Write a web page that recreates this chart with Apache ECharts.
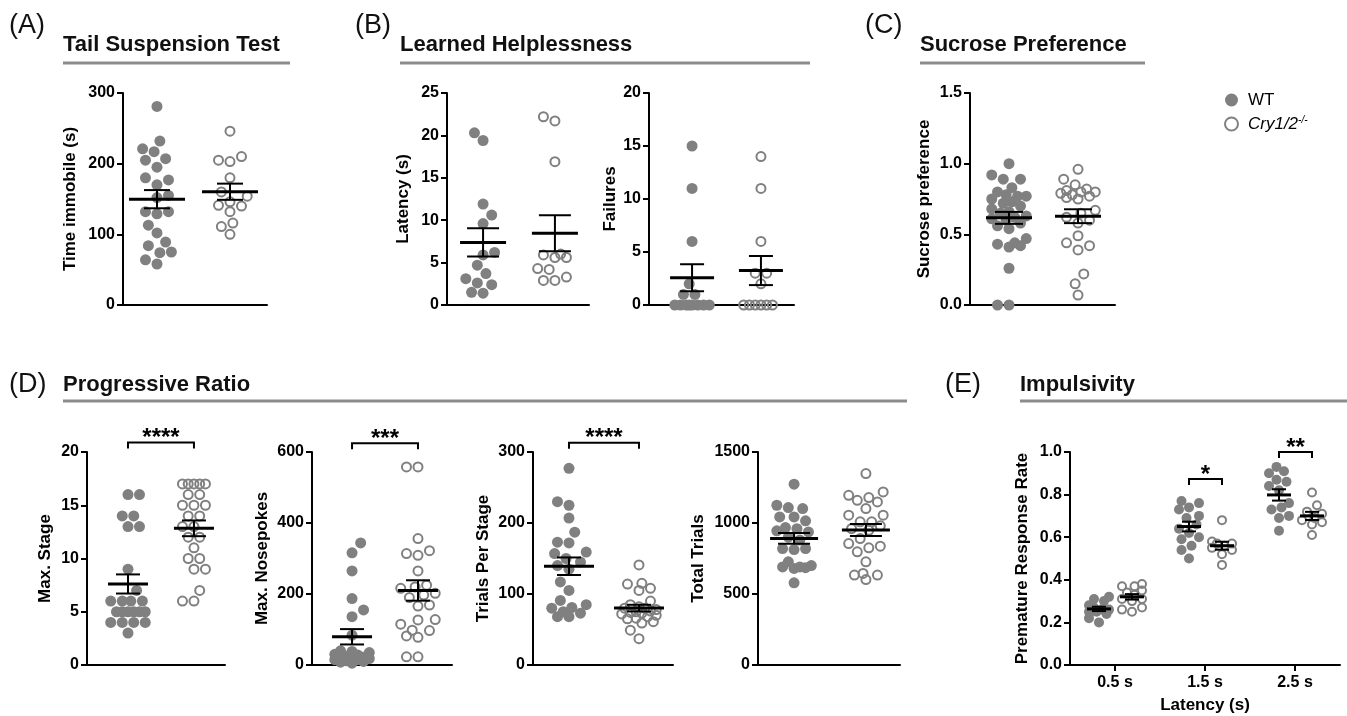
<!DOCTYPE html>
<html><head><meta charset="utf-8">
<script src="https://cdn.jsdelivr.net/npm/echarts@6/dist/echarts.min.js"></script>
<style>html,body{margin:0;padding:0;background:#fff}#c{width:1347px;height:716px}</style>
</head><body><div id="c"></div>
<script>
// ---------------- data ----------------
const tstWT = [281,232,221,217,207,205,195,180,177,170,155,152,132,132,129,113,102,89,84,75,74,64,58];
const tstKO = [246,210,205,203,180,160,154,146,141,140,132,116,111,100];
const lhLatWT = [20.3,19.4,11.9,10.6,9.6,6.2,5.9,4.7,3.7,3.1,2.6,2.4,1.5,1.4];
const lhLatKO = [22.2,21.7,16.9,6.0,5.9,5.6,5.6,4.3,4.2,3.3,2.9,2.9];
const lhFailWT = [15,11,6,2,1,1,0,0,0,0,0,0,0,0];
const lhFailKO = [14,11,6,3,3,2,0,0,0,0,0,0];
const spWT = [1.00,0.92,0.89,0.89,0.83,0.80,0.78,0.77,0.77,0.75,0.73,0.72,0.70,0.68,0.66,0.65,0.63,0.62,0.61,0.60,0.58,0.56,0.54,0.47,0.44,0.43,0.42,0.41,0.26,0.00,0.00];
const spKO = [0.96,0.89,0.85,0.82,0.81,0.80,0.80,0.79,0.78,0.77,0.76,0.75,0.67,0.65,0.62,0.60,0.58,0.49,0.44,0.42,0.39,0.22,0.15,0.07];
const prStageWT = [16,16,14,14,13,13,9,7,6,6,6,6,5,5,5,5,5,5,4,4,4,4,3];
const prStageKO = [17,17,17,17,17,16,16,15,15,15,14,14,13,13,12,12,11,10,10,9,9,7,6,6];
const prPokesWT = [344,316,265,187,155,136,84,40,38,35,30,28,25,22,20,20,18,15,15,12,10,8,5];
const prPokesKO = [558,558,356,322,314,309,265,225,220,216,202,197,190,169,166,128,127,115,98,97,82,78,23,23];
const prTpsWT = [277,230,225,207,187,173,172,159,157,150,145,140,135,117,105,91,85,81,80,75,73,68,68];
const prTpsKO = [141,115,114,108,105,90,85,82,80,80,78,76,75,74,73,72,70,68,66,65,61,59,49,37];
const prTotalWT = [1273,1125,1109,1102,1043,1043,1015,968,960,945,937,900,880,820,820,813,727,700,691,691,685,680,579];
const prTotalKO = [1348,1219,1195,1179,1160,1148,1102,1055,1055,1008,1008,980,960,949,890,855,837,825,797,727,645,633,633,602];
const impCats = ['0.5 s','1.5 s','2.5 s'];
const impWT = [[0.32,0.31,0.30,0.28,0.27,0.26,0.26,0.25,0.25,0.24,0.22,0.20],
               [0.77,0.76,0.74,0.73,0.70,0.69,0.66,0.64,0.62,0.60,0.59,0.56,0.54,0.50],
               [0.93,0.91,0.90,0.87,0.86,0.84,0.82,0.76,0.74,0.73,0.70,0.69,0.63]];
const impKO = [[0.38,0.37,0.37,0.35,0.34,0.33,0.31,0.31,0.30,0.27,0.26,0.25],
               [0.68,0.57,0.56,0.58,0.57,0.55,0.54,0.52,0.47],
               [0.81,0.75,0.72,0.71,0.69,0.68,0.67,0.66,0.61]];
const prSigLabels = ['****','***','****',null];
const prSigY = [20.9, 625, 313, null];
const impSigLabels = [null,'*','**'];
const impSigY = [null, 0.873, 1.0];
const groupNames = ['WT','Cry1/2-/-'];

// ---------------- helpers ----------------
const chart = echarts.init(document.getElementById('c'), null, {renderer:'canvas'});
const FONT = '"Liberation Sans", Arial, Helvetica, sans-serif';
const GRAY = '#808080';
function stats(a){const n=a.length;const m=a.reduce((s,v)=>s+v,0)/n;
  const sd=Math.sqrt(a.reduce((s,v)=>s+(v-m)*(v-m),0)/(n-1));return [m, sd/Math.sqrt(n)];}
function swarm(vals, cx, pxPerUnit, yMin, yMax, hPx, d, maxHalf){
  const order = vals.map((v,i)=>i).sort((a,b)=>vals[a]-vals[b]);
  const placed=[]; const out=new Array(vals.length); const step=d/4;
  const base=[0]; for(let k=1;k*step<=maxHalf+0.01;k++){base.push(k*step,-k*step);}
  for(const i of order){
    const py=(vals[i]-yMin)/(yMax-yMin)*hPx;
    const cands = placed.length%2 ? base.map(c=>-c) : base;
    let best=0,bestD=-1;
    for(const c of cands){
      let md=Infinity;
      for(const p of placed){const dd=Math.hypot(c-p[0],py-p[1]); if(dd<md) md=dd;}
      if(md>=d){best=c;bestD=md;break;}
      if(md>bestD+0.01){bestD=md;best=c;}
    }
    placed.push([best,py]);
    out[i]=[cx+best/pxPerUnit, vals[i]];
  }
  return out;
}

// ---------------- panels ----------------
const panels = [
 {g:[123,93,144,212], y:[0,300,100], dec:0, name:'Time immobile (s)', nameX:70, groups:[[tstWT,0.236],[tstKO,0.743]], mh:28, ch:13},
 {g:[447,93,142,212], y:[0,25,5], dec:0, name:'Latency (s)', nameX:403, groups:[[lhLatWT,0.254],[lhLatKO,0.76]], mh:23, ch:16},
 {g:[649,93,145,212], y:[0,20,5], dec:0, name:'Failures', nameX:611, groups:[[lhFailWT,0.297],[lhFailKO,0.772]], mh:22, ch:12},
 {g:[970,93,145,212], y:[0,1.5,0.5], dec:1, name:'Sucrose preference', nameX:924, groups:[[spWT,0.269],[spKO,0.745]], mh:23, ch:14},
 {g:[87,452,138,213], y:[0,20,5], dec:0, name:'Max. Stage', nameX:45, groups:[[prStageWT,0.297],[prStageKO,0.775]], mh:20, ch:12, sig:0},
 {g:[312,452,140,213], y:[0,600,200], dec:0, name:'Max. Nosepokes', nameX:262, groups:[[prPokesWT,0.286],[prPokesKO,0.757]], mh:20, ch:12, sig:1},
 {g:[533,452,140,213], y:[0,300,100], dec:0, name:'Trials Per Stage', nameX:483, groups:[[prTpsWT,0.257],[prTpsKO,0.757]], mh:25, ch:12, sig:2},
 {g:[758,452,142,213], y:[0,1500,500], dec:0, name:'Total Trials', nameX:698, groups:[[prTotalWT,0.254],[prTotalKO,0.76]], mh:24, ch:16}
];

const grid=[], xAxis=[], yAxis=[], series=[];
const axisLine={show:true,lineStyle:{color:'#000',width:2}};
const tickLabel={color:'#000',fontWeight:'bold',fontSize:16,fontFamily:FONT,margin:8};
const nameStyle={color:'#000',fontWeight:'bold',fontSize:17,fontFamily:FONT};

function meanSeries(xi, yi, data, mh, ch){
  return {type:'custom', xAxisIndex:xi, yAxisIndex:yi, z:10, clip:false, silent:true,
    dimensions:['x','m','s'], encode:{x:0,y:1}, data:data,
    renderItem:(p,api)=>{
      const x=api.value(0), m=api.value(1), s=api.value(2);
      const c=api.coord([x,m]), hi=api.coord([x,m+s]), lo=api.coord([x,m-s]);
      const st={stroke:'#000',lineWidth:2};
      return {type:'group',children:[
        {type:'line',shape:{x1:c[0],y1:hi[1],x2:c[0],y2:lo[1]},style:st},
        {type:'line',shape:{x1:c[0]-ch,y1:hi[1],x2:c[0]+ch,y2:hi[1]},style:st},
        {type:'line',shape:{x1:c[0]-ch,y1:lo[1],x2:c[0]+ch,y2:lo[1]},style:st},
        {type:'line',shape:{x1:c[0]-mh,y1:c[1],x2:c[0]+mh,y2:c[1]},style:{stroke:'#000',lineWidth:3}}
      ]};
    }};
}
function sigSeries(xi, yi, data){
  return {type:'custom', xAxisIndex:xi, yAxisIndex:yi, z:10, clip:false, silent:true,
    dimensions:['x1','x2','y'], encode:{x:[0,1],y:2}, data:data.map(d=>[d[0],d[1],d[2]]),
    renderItem:(p,api)=>{
      const a=api.coord([api.value(0),api.value(2)]), b=api.coord([api.value(1),api.value(2)]);
      const lab=data[p.dataIndex][3];
      return {type:'group',children:[
        {type:'polyline',shape:{points:[[a[0],a[1]+6],[a[0],a[1]],[b[0],b[1]],[b[0],b[1]+6]]},style:{stroke:'#000',lineWidth:2,fill:null}},
        {type:'text',style:{text:lab,x:(a[0]+b[0])/2,y:a[1]+8,align:'center',verticalAlign:'bottom',fontSize:24,fontWeight:'bold',fontFamily:FONT,fill:'#000'}}
      ]};
    }};
}
function scatterSeries(xi, yi, name, pts, filled, size){
  return {type:'scatter', name:name, xAxisIndex:xi, yAxisIndex:yi, z:3, symbol:'circle',
    symbolSize: filled?size:size-2, data:pts, silent:true,
    itemStyle: filled?{color:GRAY,opacity:1}:{color:'rgba(255,255,255,0)',borderColor:GRAY,borderWidth:2,opacity:1}};
}

panels.forEach((p,i)=>{
  const [l,t,w,h]=p.g;
  grid.push({left:l,top:t,width:w,height:h,containLabel:false});
  xAxis.push({type:'value',gridIndex:i,min:0,max:1,axisLine:axisLine,axisTick:{show:false},axisLabel:{show:false},splitLine:{show:false}});
  yAxis.push({type:'value',gridIndex:i,min:p.y[0],max:p.y[1],interval:p.y[2],axisLine:axisLine,
    axisTick:{show:true,length:6,lineStyle:{width:2,color:'#000'}},splitLine:{show:false},
    axisLabel:Object.assign({},tickLabel,{formatter:v=>v.toFixed(p.dec)}),
    name:p.name,nameLocation:'middle',nameGap:l-p.nameX-9,nameTextStyle:nameStyle});
  const md=[];
  p.groups.forEach((gr,k)=>{
    series.push(scatterSeries(i,i,groupNames[k],swarm(gr[0],gr[1],w,p.y[0],p.y[1],h,11.5,19),k===0,11));
    const s=stats(gr[0]); md.push([gr[1],s[0],s[1]]);
  });
  series.push(meanSeries(i,i,md,p.mh,p.ch));
  if(p.sig!==undefined){
    series.push(sigSeries(i,i,[[p.groups[0][1],p.groups[1][1],prSigY[p.sig],prSigLabels[p.sig]]]));
  }
});

// panel E
const eIdx=panels.length;
const eG=[1070,452,270,213];
grid.push({left:eG[0],top:eG[1],width:eG[2],height:eG[3]});
xAxis.push({type:'category',gridIndex:eIdx,data:impCats,boundaryGap:true,axisLine:axisLine,
  axisTick:{show:true,alignWithLabel:true,length:6,lineStyle:{width:2,color:'#000'}},
  axisLabel:Object.assign({},tickLabel,{margin:10}),
  name:'Latency (s)',nameLocation:'middle',nameGap:32,nameTextStyle:nameStyle});
const eValX=xAxis.length;
xAxis.push({type:'value',gridIndex:eIdx,min:0,max:3,show:false});
yAxis.push({type:'value',gridIndex:eIdx,min:0,max:1,interval:0.2,axisLine:axisLine,
  axisTick:{show:true,length:6,lineStyle:{width:2,color:'#000'}},splitLine:{show:false},
  axisLabel:Object.assign({},tickLabel,{formatter:v=>v.toFixed(1)}),
  name:'Premature Response Rate',nameLocation:'middle',nameGap:39,nameTextStyle:nameStyle});
const ppu=eG[2]/3;
const eMeans=[], eSig=[];
impCats.forEach((c,k)=>{
  const cw=k+0.5-16/ppu, ck=k+0.5+17/ppu;
  series.push(scatterSeries(eValX,eIdx,groupNames[0],swarm(impWT[k],cw,ppu,0,1,eG[3],10,12),true,10));
  series.push(scatterSeries(eValX,eIdx,groupNames[1],swarm(impKO[k],ck,ppu,0,1,eG[3],10,12),false,10));
  const a=stats(impWT[k]), b=stats(impKO[k]);
  eMeans.push([cw,a[0],a[1]],[ck,b[0],b[1]]);
  if(impSigLabels[k]) eSig.push([cw,ck,impSigY[k],impSigLabels[k]]);
});
series.push(meanSeries(eValX,eIdx,eMeans,12,7));
series.push(sigSeries(eValX,eIdx,eSig));

// headers
const headers=[
 {lab:'(A)',lx:9,ly:26,title:'Tail Suspension Test',tx:63,ty:45,u:[63,290],uy:61.5},
 {lab:'(B)',lx:355,ly:26,title:'Learned Helplessness',tx:400,ty:45,u:[400,810],uy:61.5},
 {lab:'(C)',lx:865,ly:26,title:'Sucrose Preference',tx:920,ty:45,u:[920,1145],uy:61.5},
 {lab:'(D)',lx:9,ly:385,title:'Progressive Ratio',tx:63,ty:385,u:[63,907],uy:399.5},
 {lab:'(E)',lx:945,ly:385,title:'Impulsivity',tx:1020,ty:385,u:[1020,1347],uy:399.5}
];
const graphic=[];
headers.forEach(h=>{
  graphic.push({type:'text',style:{x:h.lx,y:h.ly,text:h.lab,verticalAlign:'middle',fontSize:27,fontFamily:FONT,fill:'#111'}});
  graphic.push({type:'text',style:{x:h.tx,y:h.ty,text:h.title,verticalAlign:'middle',fontSize:22,fontWeight:'bold',fontFamily:FONT,fill:'#111'}});
  graphic.push({type:'rect',shape:{x:h.u[0],y:h.uy,width:h.u[1]-h.u[0],height:3},style:{fill:'#8c8c8c'}});
});

chart.setOption({
  backgroundColor:'#fff',
  animation:false,
  grid:grid, xAxis:xAxis, yAxis:yAxis, series:series, graphic:graphic,
  legend:{data:groupNames, orient:'vertical', left:1219, top:86, itemWidth:13, itemHeight:13, itemGap:6,
    selectedMode:false,
    formatter:n=>n==='WT'?'WT':'{i|Cry1/2}{s|-/-}',
    textStyle:{fontSize:17,fontFamily:FONT,color:'#000',lineHeight:18,padding:[0,0,0,5],
      rich:{i:{fontStyle:'italic',fontSize:17,fontFamily:FONT,color:'#000',lineHeight:18},
            s:{fontStyle:'italic',fontSize:10,fontFamily:FONT,color:'#000',verticalAlign:'top',lineHeight:10}}}}
});
</script></body></html>
